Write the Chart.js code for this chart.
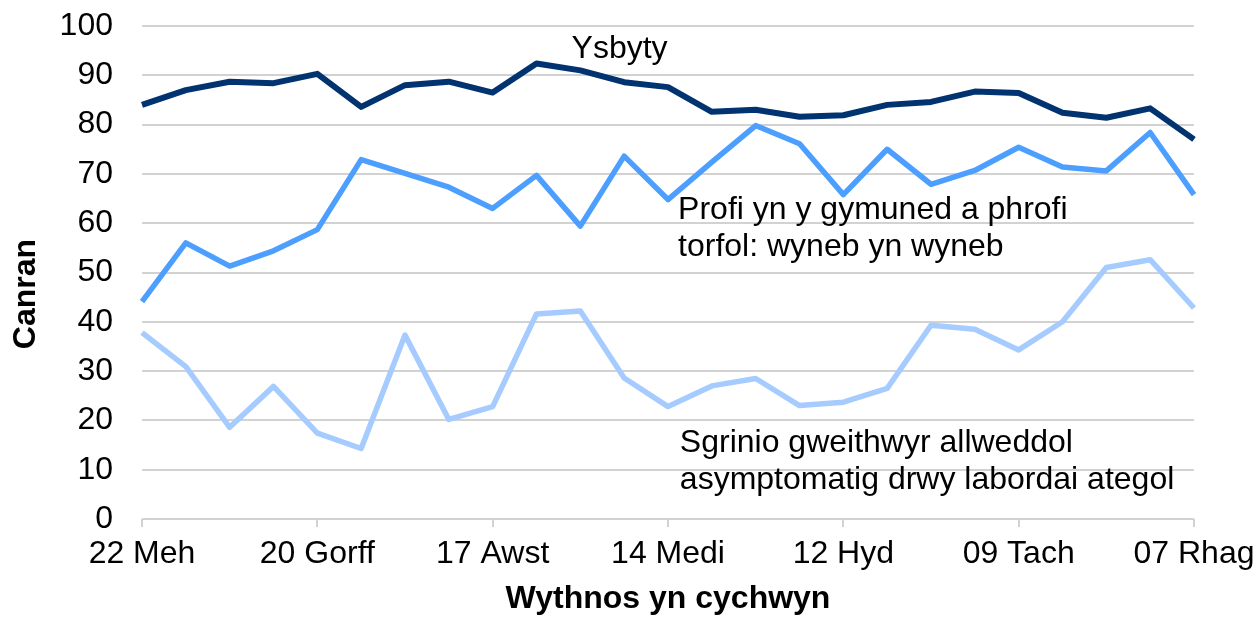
<!DOCTYPE html>
<html>
<head>
<meta charset="utf-8">
<script src="https://cdn.jsdelivr.net/npm/chart.js@4/dist/chart.umd.min.js"></script>
<style>
  html, body { margin: 0; padding: 0; background: #fff; }
  #wrap { width: 1256px; height: 618px; position: relative; }
</style>
</head>
<body>
<div id="wrap"><canvas id="chart" width="1256" height="618"></canvas></div>
<script>
// =================== DATA ===================
const weeks = [
  "22 Meh", "29 Meh", "06 Gorff", "13 Gorff", "20 Gorff", "27 Gorff",
  "03 Awst", "10 Awst", "17 Awst", "24 Awst", "31 Awst", "07 Medi",
  "14 Medi", "21 Medi", "28 Medi", "05 Hyd", "12 Hyd", "19 Hyd",
  "26 Hyd", "02 Tach", "09 Tach", "16 Tach", "23 Tach", "30 Tach", "07 Rhag",
];
const ysbyty = [
  84.0, 87.0, 88.7, 88.4, 90.3, 83.6, 88.0, 88.7, 86.5, 92.4, 91.0, 88.6,
  87.6, 82.6, 83.0, 81.6, 81.9, 84.0, 84.6, 86.7, 86.4, 82.4, 81.4, 83.3, 77.0,
];
const profiCymuned = [
  44.1, 56.0, 51.3, 54.4, 58.7, 72.9, 70.1, 67.3, 63.0, 69.7, 59.4, 73.6,
  64.8, 72.4, 79.8, 76.1, 65.8, 75.0, 67.9, 70.7, 75.4, 71.4, 70.6, 78.4, 65.8,
];
const sgrinio = [
  37.8, 30.9, 18.6, 26.9, 17.4, 14.3, 37.3, 20.2, 22.8, 41.6, 42.2, 28.6,
  22.8, 27.0, 28.5, 23.0, 23.7, 26.5, 39.3, 38.5, 34.3, 40.0, 51.0, 52.6, 42.8,
];
const yTicks = [0, 10, 20, 30, 40, 50, 60, 70, 80, 90, 100];
const LABEL_EVERY = 4;

// =================== STYLE ===================
const FONT = "'Liberation Sans', Arial, sans-serif";
const GRID = "#d2d2d2";

// in-chart labels, placed in data units (category index, percent)
const notes = [
  { lines: ["Ysbyty"], at: 9.8, value: 95.4 },
  { lines: ["Profi yn y gymuned a phrofi", "torfol: wyneb yn wyneb"], at: 12.23, value: 62.6 },
  { lines: ["Sgrinio gweithwyr allweddol", "asymptomatig drwy labordai ategol"], at: 12.27, value: 15.4 },
];

const notesPlugin = {
  id: "notes",
  afterDatasetsDraw(chart) {
    const { ctx, scales } = chart;
    ctx.save();
    ctx.fillStyle = "#000";
    ctx.font = `32px ${FONT}`;
    ctx.textAlign = "left";
    ctx.textBaseline = "middle";
    notes.forEach((n) => {
      const x = scales.x.getPixelForValue(n.at);
      const y = scales.y.getPixelForValue(n.value);
      n.lines.forEach((line, i) => ctx.fillText(line, x, y + i * 37));
    });
    // y axis title
    ctx.translate(26, 294);
    ctx.rotate(-Math.PI / 2);
    ctx.font = `bold 32px ${FONT}`;
    ctx.textAlign = "center";
    ctx.fillText("Canran", 0, 0);
    ctx.restore();
  },
};

function lineSet(label, data, color, width) {
  return {
    label,
    data,
    borderColor: color,
    backgroundColor: color,
    borderWidth: width,
    pointRadius: 0,
    pointHoverRadius: 0,
    tension: 0,
    borderJoinStyle: "round",
    fill: false,
  };
}

// =================== CHART ===================
new Chart(document.getElementById("chart"), {
  type: "line",
  data: {
    labels: weeks,
    datasets: [
      lineSet("Ysbyty", ysbyty, "#00336f", 6),
      lineSet("Profi yn y gymuned a phrofi torfol: wyneb yn wyneb", profiCymuned, "#4d9fff", 5.5),
      lineSet("Sgrinio gweithwyr allweddol asymptomatig drwy labordai ategol", sgrinio, "#a6ccff", 5.5),
    ],
  },
  options: {
    responsive: false,
    animation: false,
    layout: { padding: { top: 26, right: 62, bottom: 0, left: 0 } },
    plugins: {
      legend: { display: false },
      tooltip: { enabled: false },
    },
    scales: {
      x: {
        type: "category",
        offset: false,
        border: { display: false },
        grid: {
          drawOnChartArea: false,
          drawTicks: true,
          tickLength: 8,
          lineWidth: 2,
          color: (c) => (c.index % LABEL_EVERY === 0 ? GRID : "rgba(0,0,0,0)"),
        },
        ticks: {
          autoSkip: false,
          maxRotation: 0,
          minRotation: 0,
          padding: 8,
          color: "#000",
          font: { family: FONT, size: 32 },
          callback: (v, i) => (i % LABEL_EVERY === 0 ? weeks[i] : ""),
        },
        title: {
          display: true,
          text: "Wythnos yn cychwyn",
          color: "#000",
          font: { family: FONT, size: 32, weight: "bold" },
          padding: { top: 0, bottom: 0 },
        },
        afterFit: (s) => {
          s.height = 99;
          s.paddingLeft = 0;
          s.paddingRight = 0;
        },
      },
      y: {
        min: 0,
        max: 100,
        border: { display: false },
        grid: { color: GRID, lineWidth: 2, drawTicks: false },
        afterBuildTicks: (s) => { s.ticks = yTicks.map((v) => ({ value: v })); },
        ticks: {
          padding: 29,
          color: "#000",
          font: { family: FONT, size: 32 },
        },
        afterFit: (s) => {
          s.width = 142;
          s.paddingTop = 0;
          s.paddingBottom = 0;
        },
      },
    },
  },
  plugins: [notesPlugin],
});
</script>
</body>
</html>
